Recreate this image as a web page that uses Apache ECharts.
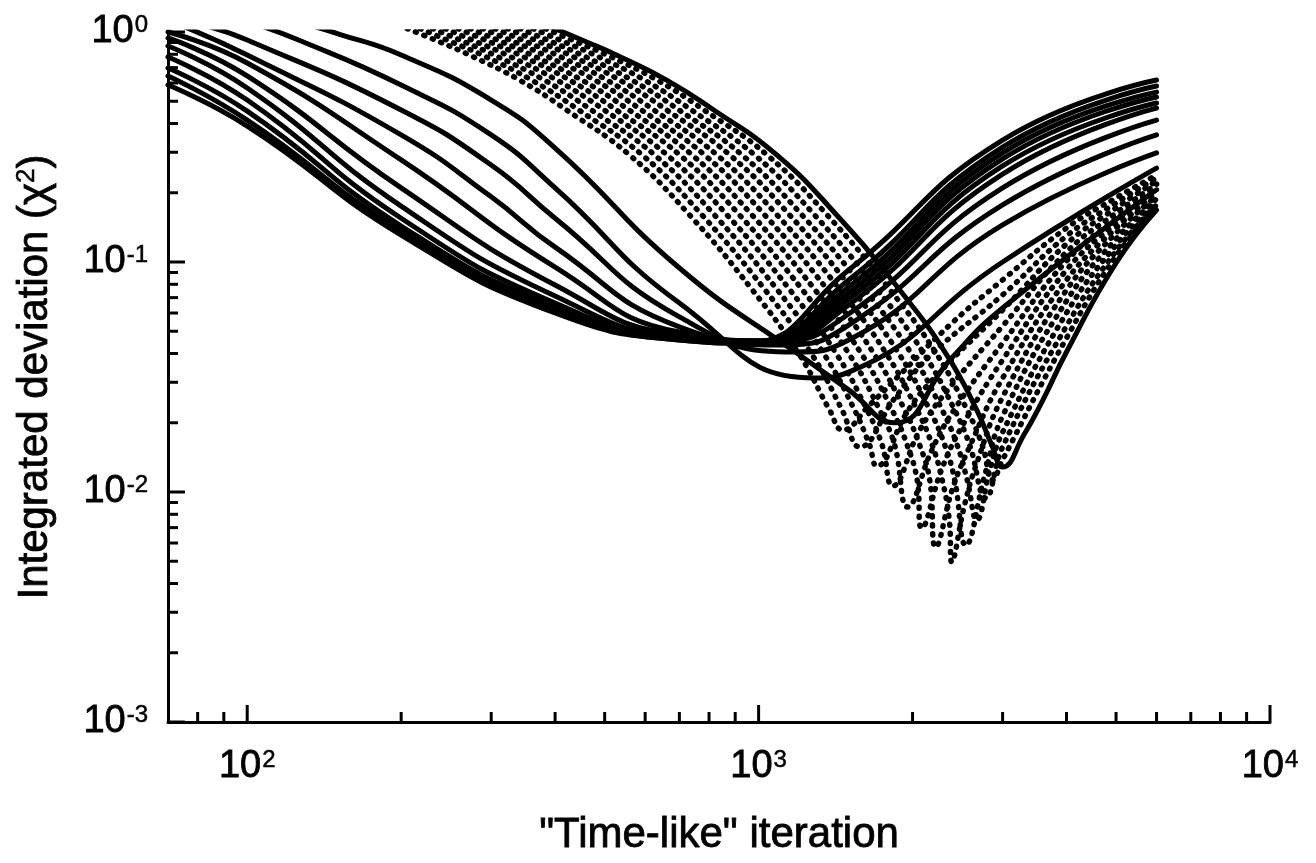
<!DOCTYPE html>
<html>
<head>
<meta charset="utf-8">
<script src="https://cdn.jsdelivr.net/npm/echarts@6/dist/echarts.min.js"></script>
<style>
  html, body { margin: 0; padding: 0; background: #fff; }
  #chart { width: 1316px; height: 863px; }
</style>
</head>
<body>
<div id="chart"></div>
<script>
// Solid curves: [iteration, chi^2]
const solidS1 = [[70, 0.588], [100, 0.390], [200, 0.131], [400, 0.0600], [700, 0.0458], [939, 0.0444], [1500, 0.0923], [3000, 0.339], [6000, 0.618]];
const solidS2 = [[70, 0.644], [100, 0.414], [200, 0.1364], [400, 0.0618], [700, 0.0458], [969, 0.0444], [1500, 0.0835], [3000, 0.316], [6000, 0.582]];
const solidS3 = [[70, 0.697], [100, 0.453], [200, 0.1434], [400, 0.0637], [700, 0.0463], [996, 0.0449], [1500, 0.0779], [3000, 0.298], [6000, 0.548]];
const solidS4 = [[70, 0.779], [100, 0.506], [200, 0.155], [400, 0.0663], [700, 0.0467], [1018, 0.0453], [1500, 0.0733], [3000, 0.2805], [6000, 0.522]];
const solidS5 = [[70, 0.869], [100, 0.571], [200, 0.175], [400, 0.0711], [700, 0.0472], [1041, 0.0453], [1500, 0.0690], [3000, 0.2615], [6000, 0.491]];
const solidS6 = [[70, 0.942], [100, 0.644], [200, 0.210], [400, 0.0794], [700, 0.0481], [1065, 0.0453], [1500, 0.0650], [3000, 0.241], [6000, 0.467]];
const solidS7 = [[70, 1.0], [100, 0.733], [200, 0.278], [400, 0.0951], [700, 0.0496], [1099, 0.0453], [1500, 0.0594], [3000, 0.210], [6000, 0.414]];
const solidT1 = [[74, 1.072], [100, 0.794], [200, 0.357], [300, 0.192], [400, 0.116], [700, 0.0522], [1124, 0.0436], [1500, 0.0532], [3000, 0.177], [6000, 0.357]];
const solidT2 = [[82, 1.072], [100, 0.923], [200, 0.458], [300, 0.264], [400, 0.155], [700, 0.0577], [1176, 0.0406], [1500, 0.0458], [3000, 0.145], [6000, 0.298]];
const solidT3 = [[101, 1.105], [126, 0.923], [200, 0.588], [300, 0.357], [400, 0.210], [700, 0.0663], [1287, 0.0313], [1500, 0.0332], [3000, 0.1], [6000, 0.256]];
const solidT4 = [[126, 1.105], [151, 0.980], [200, 0.794], [300, 0.506], [400, 0.313], [700, 0.0942], [1203, 0.0394], [1500, 0.0278], [1846, 0.0200], [2365, 0.0375], [3000, 0.0631], [6000, 0.206]];

// Solid curve bounding the dotted family
const solidEdge = [[385, 1.07], [461, 0.905], [527, 0.794], [661, 0.618], [817, 0.458], [1085, 0.292], [1421, 0.160], [1888, 0.0755], [2334, 0.0394], [2671, 0.0227], [2857, 0.0160], [3002, 0.01285], [3301, 0.0177], [3596, 0.0251], [4000, 0.0406], [5000, 0.0990], [6000, 0.1683]];

// Dotted curves: [iteration, chi^2]
const dotted0 = [[198, 1.07], [238, 0.905], [272, 0.794], [341, 0.618], [421, 0.458], [559, 0.292], [733, 0.160], [973, 0.0755], [1203, 0.0394], [1377, 0.0227], [1460, 0.0186], [1649, 0.0239], [1888, 0.0323], [2365, 0.0532], [3000, 0.0835], [4000, 0.1405], [5000, 0.190], [6000, 0.239]];
const dotted1 = [[210, 1.07], [251, 0.905], [288, 0.794], [360, 0.618], [445, 0.458], [592, 0.292], [775, 0.160], [1030, 0.0755], [1273, 0.0394], [1457, 0.0227], [1577, 0.0157], [1846, 0.0256], [2161, 0.0390], [3000, 0.0719], [4000, 0.1297], [5000, 0.1805], [6000, 0.232]];
const dotted2 = [[222, 1.07], [266, 0.905], [304, 0.794], [381, 0.618], [471, 0.458], [626, 0.292], [820, 0.160], [1089, 0.0755], [1346, 0.0394], [1541, 0.0227], [1648, 0.0160], [1702, 0.01297], [1957, 0.0225], [2261, 0.0332], [3000, 0.0618], [4000, 0.1198], [5000, 0.1717], [6000, 0.225]];
const dotted3 = [[235, 1.07], [281, 0.905], [322, 0.794], [403, 0.618], [499, 0.458], [662, 0.292], [868, 0.160], [1152, 0.0755], [1424, 0.0394], [1630, 0.0227], [1744, 0.0160], [1829, 0.01062], [2066, 0.0186], [2344, 0.0278], [3000, 0.0527], [4000, 0.1105], [5000, 0.1633], [6000, 0.218]];
const dotted4 = [[249, 1.07], [298, 0.905], [341, 0.794], [427, 0.618], [527, 0.458], [701, 0.292], [918, 0.160], [1219, 0.0755], [1507, 0.0394], [1725, 0.0227], [1845, 0.0160], [1957, 0.0086], [2181, 0.0152], [2419, 0.0230], [3000, 0.0444], [4000, 0.1010], [5000, 0.1553], [6000, 0.212]];
const dotted5 = [[263, 1.07], [315, 0.905], [360, 0.794], [451, 0.618], [558, 0.458], [741, 0.292], [971, 0.160], [1290, 0.0755], [1594, 0.0394], [1825, 0.0227], [1952, 0.0160], [2042, 0.01128], [2084, 0.00697], [2281, 0.01259], [2496, 0.0192], [3000, 0.0375], [4000, 0.0923], [5000, 0.1477], [6000, 0.206]];
const dotted6 = [[278, 1.07], [333, 0.905], [381, 0.794], [478, 0.618], [590, 0.458], [784, 0.292], [1028, 0.160], [1365, 0.0755], [1687, 0.0394], [1931, 0.0227], [2065, 0.0160], [2161, 0.01128], [2220, 0.00577], [2397, 0.01041], [2588, 0.0158], [3000, 0.0313], [4000, 0.0835], [5000, 0.1405], [6000, 0.1995]];
const dotted7 = [[294, 1.07], [352, 0.905], [403, 0.794], [505, 0.618], [624, 0.458], [829, 0.292], [1087, 0.160], [1444, 0.0755], [1784, 0.0394], [2042, 0.0227], [2185, 0.0160], [2286, 0.01128], [2360, 0.00755], [2386, 0.00496], [2530, 0.00887], [2671, 0.01337], [3000, 0.0259], [4000, 0.0755], [5000, 0.1337], [6000, 0.1936]];
const dotted8 = [[311, 1.07], [373, 0.905], [427, 0.794], [535, 0.618], [661, 0.458], [878, 0.292], [1150, 0.160], [1528, 0.0755], [1888, 0.0394], [2161, 0.0227], [2312, 0.0160], [2418, 0.01128], [2542, 0.00588], [2769, 0.01186], [3000, 0.0214], [4000, 0.0677], [5000, 0.1259], [6000, 0.188]];
const dotted9 = [[329, 1.07], [394, 0.905], [451, 0.794], [565, 0.618], [699, 0.458], [928, 0.292], [1216, 0.160], [1616, 0.0755], [1997, 0.0394], [2286, 0.0227], [2445, 0.0160], [2558, 0.01128], [2671, 0.00755], [2832, 0.01247], [3000, 0.0182], [4000, 0.0600], [5000, 0.1186], [6000, 0.1823]];
const dotted10 = [[349, 1.07], [417, 0.905], [478, 0.794], [598, 0.618], [739, 0.458], [982, 0.292], [1287, 0.160], [1710, 0.0755], [2113, 0.0394], [2418, 0.0227], [2587, 0.0160], [2781, 0.00941], [3000, 0.0157], [4000, 0.0527], [5000, 0.1116], [6000, 0.177]];
const dotted11 = [[369, 1.07], [441, 0.905], [505, 0.794], [633, 0.618], [782, 0.458], [1039, 0.292], [1362, 0.160], [1809, 0.0755], [2235, 0.0394], [2558, 0.0227], [2737, 0.0160], [2870, 0.01128], [3000, 0.0138], [4000, 0.0467], [5000, 0.1062], [6000, 0.1734]];

// Axis ranges and tick positions
const xRange = [70, 10000];
const yRange = [0.001, 1];
const xTickMajor = [100, 1000, 10000];
const xTickMinor = [80, 90, 200, 300, 400, 500, 600, 700, 800, 900, 2000, 3000, 4000, 5000, 6000, 7000, 8000, 9000];
const yTickMajor = [0.001, 0.01, 0.1, 1];
const yTickMinor = [0.002, 0.003, 0.004, 0.005, 0.006, 0.007, 0.008, 0.009, 0.02, 0.03, 0.04, 0.05, 0.06, 0.07, 0.08, 0.09, 0.2, 0.3, 0.4, 0.5, 0.6, 0.7, 0.8, 0.9];

const FONT = 'Liberation Sans, Arial, sans-serif';

function powerLabel(v) {
  const e = Math.log10(v);
  const r = Math.round(e);
  return Math.abs(e - r) < 1e-6 ? '{b|10}{s|' + r + '}' : '';
}
const labelRich = {
  b: { fontSize: 38, fontFamily: FONT, color: '#000', textBorderColor: '#000', textBorderWidth: 0.8 },
  s: { fontSize: 24, fontFamily: FONT, color: '#000', verticalAlign: 'top', padding: [0, 0, 0, 1], textBorderColor: '#000', textBorderWidth: 0.5 }
};

function solidLine(data) {
  return {
    type: 'line', data: data, symbol: 'none', smooth: 0.5,
    clip: true, silent: true, animation: false, z: 3,
    lineStyle: { color: '#000', width: 5, cap: 'round', join: 'round' }
  };
}
function dottedLine(data) {
  return {
    type: 'line', data: data, symbol: 'none', smooth: 0.45,
    clip: true, silent: true, animation: false, z: 2,
    lineStyle: { color: '#000', width: 5.5, type: [1, 8], cap: 'round' }
  };
}

// Inward tick marks drawn with the axes' own scales
function tickSeries(values, major, onX) {
  return {
    type: 'custom', coordinateSystem: 'cartesian2d', silent: true, clip: false, z: 5, animation: false,
    data: values.map(v => onX ? [v, yRange[0], major ? 1 : 0] : [xRange[0], v, major ? 1 : 0]),
    encode: { x: 0, y: 1 },
    renderItem: function (params, api) {
      const p = api.coord([api.value(0), api.value(1)]);
      const len = api.value(2) ? 17 : 10;
      const shape = onX
        ? { x1: p[0], y1: p[1], x2: p[0], y2: p[1] - len }
        : { x1: p[0], y1: p[1], x2: p[0] + len, y2: p[1] };
      return { type: 'line', shape: shape, style: { stroke: '#000', lineWidth: 3 } };
    }
  };
}

const chart = echarts.init(document.getElementById('chart'), null, { renderer: 'canvas' });

const series = [
  ...[dotted0, dotted1, dotted2, dotted3, dotted4, dotted5, dotted6, dotted7, dotted8, dotted9, dotted10, dotted11].map(dottedLine),
  ...[solidS1, solidS2, solidS3, solidS4, solidS5, solidS6, solidS7, solidT1, solidT2, solidT3, solidT4, solidEdge].map(solidLine),
  tickSeries(xTickMajor, true, true),
  tickSeries(xTickMinor, false, true),
  tickSeries(yTickMajor, true, false),
  tickSeries(yTickMinor, false, false)
];

chart.setOption({
  backgroundColor: '#fff',
  animation: false,
  grid: { left: 168, top: 32, width: 1102, height: 690 },
  xAxis: {
    type: 'log', logBase: 10, min: xRange[0], max: xRange[1],
    name: '"Time-like" iteration',
    nameLocation: 'middle', nameGap: 92,
    nameTextStyle: { fontSize: 42, fontFamily: FONT, color: '#000', textBorderColor: '#000', textBorderWidth: 0.8 },
    axisLine: { show: true, lineStyle: { color: '#000', width: 3 } },
    axisTick: { show: false },
    splitLine: { show: false },
    minorTick: { show: false },
    axisLabel: { margin: 26, formatter: powerLabel, rich: labelRich, showMinLabel: true, showMaxLabel: true }
  },
  yAxis: {
    type: 'log', logBase: 10, min: yRange[0], max: yRange[1],
    name: 'Integrated deviation (\u03c7{s|2})',
    nameLocation: 'middle', nameGap: 112, nameRotate: 90,
    nameTextStyle: {
      fontSize: 42, fontFamily: FONT, color: '#000', textBorderColor: '#000', textBorderWidth: 0.8,
      rich: { s: { fontSize: 26, fontFamily: FONT, color: '#000', verticalAlign: 'top', textBorderColor: '#000', textBorderWidth: 0.5 } }
    },
    axisLine: { show: true, lineStyle: { color: '#000', width: 3 } },
    axisTick: { show: false },
    splitLine: { show: false },
    minorTick: { show: false },
    axisLabel: { margin: 20, formatter: powerLabel, rich: labelRich, showMinLabel: true, showMaxLabel: true }
  },
  series: series
});
</script>
</body>
</html>
